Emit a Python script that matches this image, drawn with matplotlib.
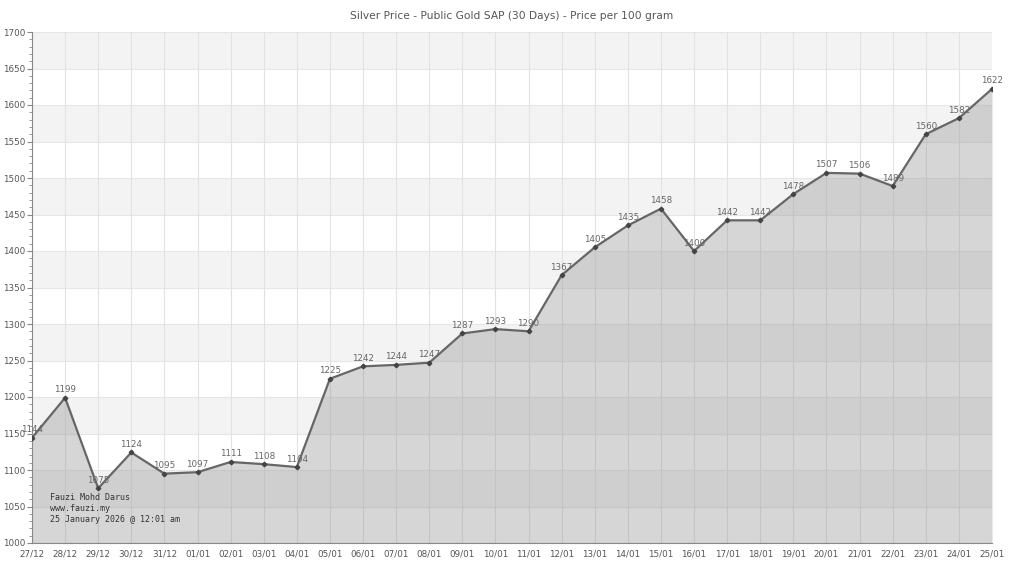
import matplotlib
matplotlib.use("Agg")
import matplotlib.pyplot as plt
from matplotlib.ticker import MultipleLocator

dates = ["27/12", "28/12", "29/12", "30/12", "31/12", "01/01", "02/01", "03/01", "04/01",
         "05/01", "06/01", "07/01", "08/01", "09/01", "10/01", "11/01", "12/01", "13/01",
         "14/01", "15/01", "16/01", "17/01", "18/01", "19/01", "20/01", "21/01", "22/01",
         "23/01", "24/01", "25/01"]
prices = [1144, 1199, 1075, 1124, 1095, 1097, 1111, 1108, 1104, 1225, 1242, 1244, 1247,
          1287, 1293, 1290, 1367, 1405, 1435, 1458, 1400, 1442, 1442, 1478, 1507, 1506,
          1489, 1560, 1582, 1622]
title = "Silver Price - Public Gold SAP (30 Days) - Price per 100 gram"
note = "Fauzi Mohd Darus\nwww.fauzi.my\n25 January 2026 @ 12:01 am"

fig = plt.figure(figsize=(10.24, 5.76), dpi=100)
ax = fig.add_axes([32/1024, 33/576, 960/1024, 511/576])
x = list(range(len(dates)))
ymin, ymax = 1000, 1700
ax.set_xlim(0, len(dates) - 1)
ax.set_ylim(ymin, ymax)

# alternating bands
for lo in range(ymin, ymax, 50):
    if ((lo - ymin) // 50) % 2 == 1:
        ax.axhspan(lo, lo + 50, color="#f3f3f3", zorder=0, lw=0)
for v in range(ymin, ymax + 1, 50):
    ax.axhline(v, color="#e6e6e6", lw=0.8, zorder=0.5)
for xi in x:
    ax.axvline(xi, color="#e2e2e2", lw=0.8, zorder=0.5)

ax.fill_between(x, prices, ymin, color="#999999", alpha=0.4, lw=0, zorder=1)
ax.plot(x, prices, color="#666666", lw=1.6, marker="D", markersize=2.3,
        markerfacecolor="#444444", markeredgecolor="#444444", zorder=3)

for xi, p in zip(x, prices):
    ax.annotate(str(p), (xi, p), xytext=(0, 2.5), textcoords="offset points",
                ha="center", va="bottom", fontsize=6.3, color="#666666", zorder=4)

ax.set_xticks(x)
ax.set_xticklabels(dates)
ax.yaxis.set_major_locator(MultipleLocator(50))
ax.yaxis.set_minor_locator(MultipleLocator(10))
ax.tick_params(axis="x", length=0, labelsize=6.3, colors="#555555", pad=5)
ax.tick_params(axis="y", which="major", length=3.6, labelsize=6.3, colors="#888888",
               labelcolor="#555555", pad=1.5)
ax.tick_params(axis="y", which="minor", length=2, colors="#888888")

for s in ["top", "right"]:
    ax.spines[s].set_visible(False)
ax.spines["left"].set_color("#888888")
ax.spines["bottom"].set_color("#888888")

fig.text(0.5, 1 - 16/576, title, ha="center", va="center", fontsize=7.7, color="#555555")
ax.text((50 - 32) / 960, (543 - 493) / 511, note, transform=ax.transAxes,
        family="DejaVu Sans Mono", fontsize=6, color="#333333", va="top", ha="left",
        linespacing=1.3, zorder=5)

fig.savefig("out.png", dpi=100)
